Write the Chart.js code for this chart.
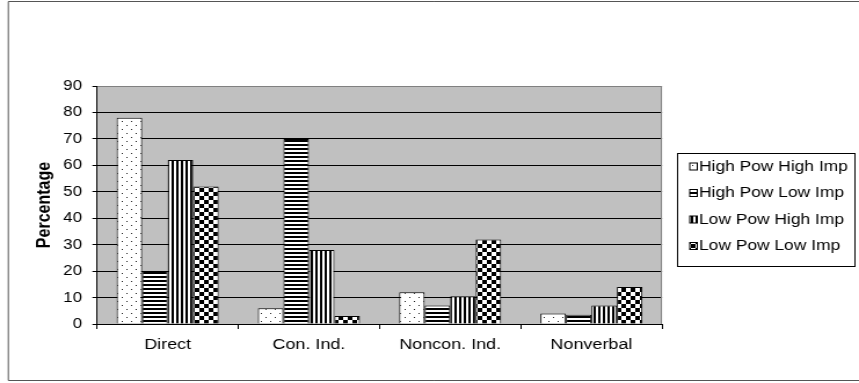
<!DOCTYPE html>
<html>
<head>
<meta charset="utf-8">
<script src="https://cdn.jsdelivr.net/npm/chart.js@4.4.1/dist/chart.umd.min.js"></script>
<style>
  html, body { margin: 0; padding: 0; background: #fff; overflow: hidden; }
  /* the chart is laid out on a 741px-wide canvas and widened to 859px */
  #wrap { width: 741px; height: 383px; transform: scaleX(1.15924); transform-origin: 0 0; }
  canvas { display: block; }
</style>
</head>
<body>
<div id="wrap"><canvas id="c" width="741" height="383"></canvas></div>
<script>
// ---- data ----
const categories = ['Direct', 'Con. Ind.', 'Noncon. Ind.', 'Nonverbal'];
const seriesNames = ['High Pow High Imp', 'High Pow Low Imp', 'Low Pow High Imp', 'Low Pow Low Imp'];
const highPowHighImp = [78, 6, 12, 4];
const highPowLowImp  = [20, 70, 7, 3.5];
const lowPowHighImp  = [62, 28, 10.5, 7];
const lowPowLowImp   = [52, 3, 32, 14];
const yTicks = [0, 10, 20, 30, 40, 50, 60, 70, 80, 90];
const yTitle = 'Percentage';

// ---- layout (canvas px) ----
const W = 741, H = 383;
const PLOT = { left: 83.7, top: 86, right: 571.1, bottom: 324 };
const FONT = '"Liberation Sans", Arial, sans-serif';

const canvas = document.getElementById('c');
const ctx0 = canvas.getContext('2d');

// fill patterns for the four series
function makePattern(w, h, paint) {
  const t = document.createElement('canvas');
  t.width = w; t.height = h;
  const g = t.getContext('2d');
  g.fillStyle = '#fff';
  g.fillRect(0, 0, w, h);
  g.fillStyle = '#000';
  paint(g);
  return ctx0.createPattern(t, 'repeat');
}
const dotFill = makePattern(8, 8, g => {
  g.fillStyle = '#222';
  g.fillRect(1, 1, 1, 1);
  g.fillRect(5, 5, 1, 1);
});
const hStripeFill = makePattern(1, 4, g => { g.fillRect(0, 0, 1, 2); });
const vStripeFill = makePattern(4, 1, g => { g.fillRect(0, 0, 2, 1); });
const checkerFill = makePattern(8, 8, g => { g.fillRect(0, 0, 4, 4); g.fillRect(4, 4, 4, 4); });

const seriesValues = [highPowHighImp, highPowLowImp, lowPowHighImp, lowPowLowImp];
const seriesFills = [dotFill, hStripeFill, vStripeFill, checkerFill];

const datasets = seriesNames.map((name, i) => ({
  label: name,
  data: seriesValues[i],
  backgroundColor: seriesFills[i],
  borderColor: '#000',
  borderWidth: 1,
  categoryPercentage: 0.722,
  barPercentage: 1.0
}));

// page frame, grey plot background and plot edge
const framePlugin = {
  id: 'frame',
  beforeDraw(chart) {
    const c = chart.ctx, a = chart.chartArea;
    c.save();
    c.fillStyle = '#fff';
    c.fillRect(0, 0, W, H);
    c.fillStyle = '#c0c0c0';
    c.fillRect(a.left, a.top, a.right - a.left, a.bottom - a.top);
    c.strokeStyle = '#555';
    c.lineWidth = 1;
    c.beginPath();
    c.moveTo(W, 1.5); c.lineTo(7.2, 1.5); c.lineTo(7.2, 380.5); c.lineTo(W, 380.5);
    c.stroke();
    c.restore();
  },
  beforeDatasetsDraw(chart) {
    const c = chart.ctx, a = chart.chartArea;
    c.save();
    c.strokeStyle = '#808080';
    c.lineWidth = 1;
    const x = Math.round(a.right) - 0.5;
    c.beginPath();
    c.moveTo(x, a.top); c.lineTo(x, a.bottom);
    c.stroke();
    c.restore();
  }
};

// boxed legend to the right of the plot
const boxedLegend = {
  id: 'boxedLegend',
  afterDraw(chart) {
    const c = chart.ctx;
    const box = { x: 584.5, y: 153.5, w: 153, h: 113 };
    const rows = [166.5, 193, 219.5, 246];
    c.save();
    c.strokeStyle = '#000';
    c.lineWidth = 1;
    c.strokeRect(box.x, box.y, box.w, box.h);
    c.font = '15px ' + FONT;
    c.textBaseline = 'middle';
    c.textAlign = 'left';
    chart.data.datasets.forEach((ds, i) => {
      const y = rows[i];
      c.fillStyle = ds.backgroundColor;
      c.fillRect(595, y - 3.5, 6.5, 7);
      c.strokeRect(595, y - 3.5, 6.5, 7);
      c.fillStyle = '#000';
      c.fillText(ds.label, 603, y);
    });
    c.restore();
  }
};

new Chart(canvas, {
  type: 'bar',
  data: { labels: categories, datasets },
  plugins: [framePlugin, boxedLegend],
  options: {
    responsive: false,
    animation: false,
    devicePixelRatio: 1,
    layout: { padding: { left: 0, top: PLOT.top, right: W - PLOT.right, bottom: 0 } },
    plugins: { legend: { display: false }, tooltip: { enabled: false } },
    scales: {
      x: {
        offset: true,
        grid: { display: true, offset: true, drawOnChartArea: false, color: '#000', tickLength: 5 },
        border: { display: true, color: '#000', width: 1 },
        ticks: { color: '#000', padding: 6, font: { family: FONT, size: 15.5 }, maxRotation: 0 },
        afterFit(s) { s.height = H - PLOT.bottom; }
      },
      y: {
        min: yTicks[0],
        max: yTicks[yTicks.length - 1],
        grid: {
          color: (ctx) => (ctx.tick && ctx.tick.value === yTicks[yTicks.length - 1]) ? '#808080' : '#000',
          tickColor: '#000',
          tickLength: 4,
          lineWidth: 1
        },
        border: { display: true, color: '#000', width: 1 },
        ticks: {
          stepSize: yTicks[1] - yTicks[0],
          color: '#000',
          padding: 9,
          font: { family: FONT, size: 14.5 }
        },
        title: {
          display: true,
          text: yTitle,
          color: '#000',
          font: { family: FONT, size: 16, weight: 'bold' },
          padding: { top: 29, bottom: 0 }
        },
        afterFit(s) { s.width = PLOT.left; }
      }
    }
  }
});
</script>
</body>
</html>
